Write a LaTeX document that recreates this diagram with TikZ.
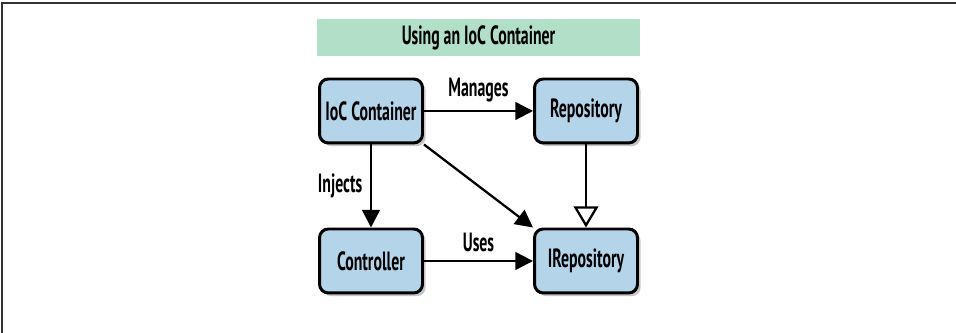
\documentclass[tikz,border=0pt]{standalone}
\usepackage{fontspec}
\setmainfont{PT Sans}[FakeStretch=0.6]
\usepackage{tikz}
\usetikzlibrary{arrows.meta, shadows}
\definecolor{boxblue}{HTML}{B4D4EA}
\definecolor{titlegreen}{HTML}{B2DFC8}
\tikzset{
    x=0.02cm, y=0.02cm,
    every node/.style={font=\fontsize{15}{17}\selectfont\bfseries},
    comp/.style={
        draw, fill=boxblue, line width=1.7pt,
        rounded corners=5pt,
        minimum width=2.06cm, minimum height=1.28cm,
        drop shadow={shadow xshift=1.8pt, shadow yshift=-1.8pt, opacity=0.45}
    },
    every edge/.style={
        draw,
        -{Triangle[length=10pt,width=10pt]},
        line width=1.3pt
    },
    realizes/.style={-{Triangle[open,length=12pt,width=14pt]}}
}

\begin{document}
\begin{tikzpicture}
	\useasboundingbox (0,0) rectangle (956,333);
	% frame
	\draw[black!80, line width=1.1pt] (2,0) -- (2,330) -- (956,330);
	\node[fill=titlegreen, minimum width=6.46cm, minimum height=0.62cm] (title) at (478.5,295.5) {Using an IoC Container};
	\node[comp] (ioc) at (371,222) {IoC Container};
	\node[comp] (repo) at (586,222) {Repository};
	\node[comp] (ctrl) at (371,72) {Controller};
	\node[comp] (irepo) at (586,72) {IRepository};
	\draw
	(ioc) edge node[above, yshift=1pt]{Manages} (repo)
	(ioc) edge node[left, xshift=-1pt]{Injects} (ctrl)
	(ioc.south east) edge (irepo.north west)
	(ctrl) edge node[above, yshift=1pt]{Uses} (irepo)
	(repo) edge[realizes] (irepo);
\end{tikzpicture}
\end{document}
